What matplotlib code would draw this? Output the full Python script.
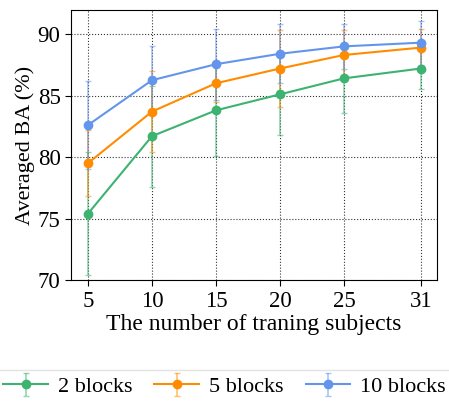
import matplotlib
matplotlib.use('Agg')
import matplotlib.pyplot as plt

plt.rcParams['font.family'] = ['Liberation Serif', 'DejaVu Serif']

subjects = [5, 10, 15, 20, 25, 31]
ba_2 = [75.4, 81.7, 83.8, 85.1, 86.4, 87.2]
err_2 = [5.0, 4.1, 3.7, 3.3, 2.85, 1.65]
ba_5 = [79.5, 83.7, 86.0, 87.2, 88.3, 88.9]
err_5 = [2.7, 3.3, 1.5, 3.1, 2.05, 1.55]
ba_10 = [82.6, 86.25, 87.55, 88.4, 89.0, 89.3]
err_10 = [3.6, 2.75, 2.9, 2.4, 1.8, 1.8]
labels = ['2 blocks', '5 blocks', '10 blocks']
colors = ['#3cb371', '#ff8c00', '#6495ed']

fig = plt.figure(figsize=(4.49, 4.03), dpi=100)
ax = fig.add_axes([0.158, 0.305, 0.815, 0.67])

for vals, errs, lab, c in zip([ba_2, ba_5, ba_10], [err_2, err_5, err_10], labels, colors):
    ax.errorbar(subjects, vals, yerr=errs, color=c, marker='o', markersize=6,
                linewidth=1.5, capsize=2.5, elinewidth=1.2, ecolor=c,
                label=lab, zorder=3)
    # fade the error bars a bit
    for coll in ax.containers[-1].lines[2]:
        coll.set_alpha(0.55)
    for cap in ax.containers[-1].lines[1]:
        cap.set_alpha(0.55)

ax.set_xlim(3.67, 32.25)
ax.set_ylim(70, 91.95)
ax.set_xticks(subjects)
ax.set_yticks([70, 75, 80, 85, 90])
ax.tick_params(labelsize=16.5, direction='out', length=4)
ax.grid(True, color='black', linestyle=':', linewidth=0.8, alpha=0.8)
ax.set_axisbelow(True)
ax.set_xlabel('The number of traning subjects', fontsize=17, labelpad=2)
ax.set_ylabel('Averaged BA (%)', fontsize=16, labelpad=2)

leg = fig.legend(loc='upper center', bbox_to_anchor=(0.5, 0.082), ncol=3,
                 fontsize=16, frameon=True, fancybox=False,
                 columnspacing=1.0, handlelength=2.0, borderpad=0.3,
                 handletextpad=0.45, borderaxespad=0)
leg.get_frame().set_edgecolor('#dddddd')
leg.get_frame().set_linewidth(1.0)

fig.savefig('out.png', dpi=100)
